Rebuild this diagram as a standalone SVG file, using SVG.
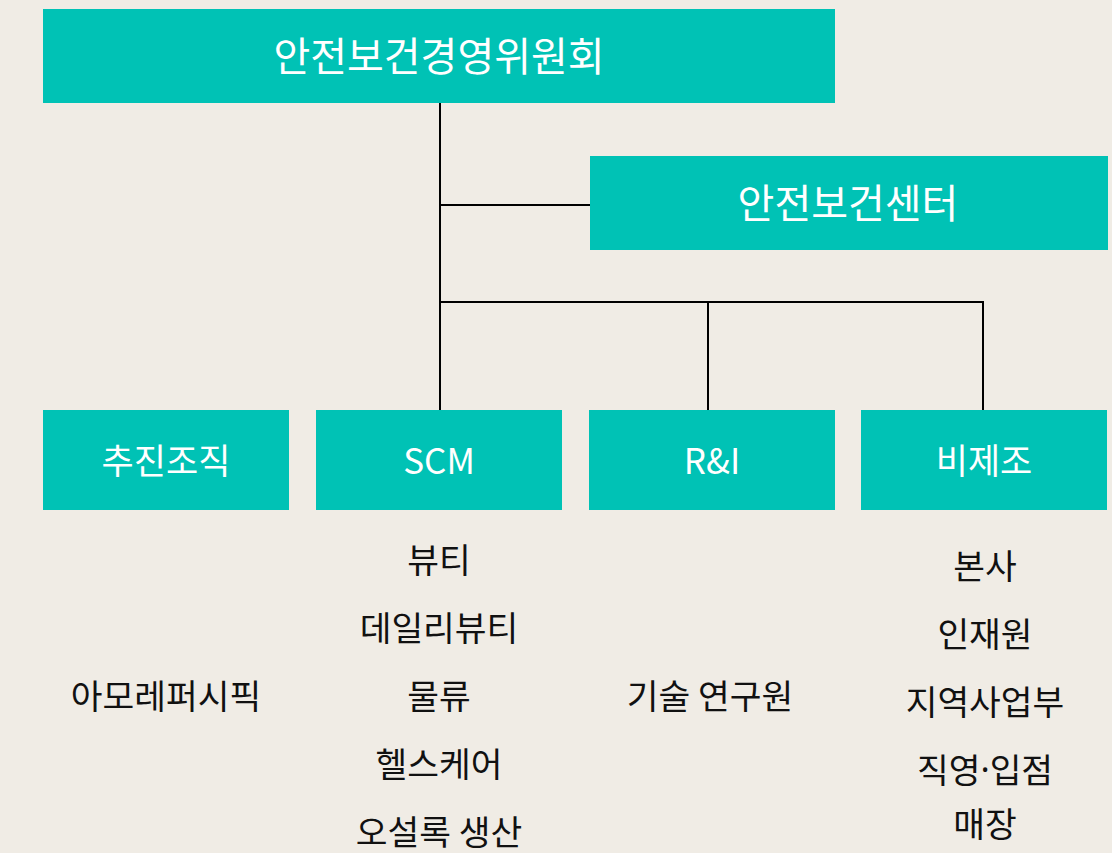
<svg xmlns="http://www.w3.org/2000/svg" width="1112" height="853" viewBox="0 0 1112 853">
<style>
.box{fill:#00C2B5}
.bt{fill:#FFFFFF;font-family:"Noto Sans CJK KR","Noto Sans",sans-serif;text-anchor:middle;dominant-baseline:central}
.lt{fill:#111111;font-family:"Noto Sans CJK KR","Noto Sans",sans-serif;text-anchor:middle;dominant-baseline:central;font-size:34.5px}
.ln{stroke:#000000;stroke-width:2;fill:none}
</style>
<rect width="1112" height="853" fill="#F0ECE5"/>
<g id="connectors">
<line class="ln" x1="440" y1="103" x2="440" y2="410"/>
<line class="ln" x1="440" y1="205" x2="590" y2="205"/>
<line class="ln" x1="440" y1="302" x2="984" y2="302"/>
<line class="ln" x1="708" y1="302" x2="708" y2="410"/>
<line class="ln" x1="983" y1="302" x2="983" y2="410"/>
</g>
<g id="committee">
<rect class="box" x="43" y="9" width="792" height="94"/>
<text class="bt" x="439" y="54" font-size="40">안전보건경영위원회</text>
</g>
<g id="center">
<rect class="box" x="590" y="156" width="518" height="94"/>
<text class="bt" x="848" y="201" font-size="40">안전보건센터</text>
</g>
<g id="promo">
<rect class="box" x="43" y="410" width="246" height="100"/>
<text class="bt" x="166" y="458" font-size="35">추진조직</text>
<text class="lt" x="166" y="694">아모레퍼시픽</text>
</g>
<g id="scm">
<rect class="box" x="316" y="410" width="246" height="100"/>
<text class="bt" x="439" y="458" font-size="35">SCM</text>
<text class="lt" x="439" y="558">뷰티</text>
<text class="lt" x="439" y="626">데일리뷰티</text>
<text class="lt" x="439" y="694">물류</text>
<text class="lt" x="439" y="762">헬스케어</text>
<text class="lt" x="439" y="830">오설록 생산</text>
</g>
<g id="ri">
<rect class="box" x="589" y="410" width="246" height="100"/>
<text class="bt" x="712" y="458" font-size="35">R&amp;I</text>
<text class="lt" x="710" y="694">기술 연구원</text>
</g>
<g id="nonmfg">
<rect class="box" x="861" y="410" width="246" height="100"/>
<text class="bt" x="984" y="458" font-size="35">비제조</text>
<text class="lt" x="985" y="564">본사</text>
<text class="lt" x="985" y="632">인재원</text>
<text class="lt" x="985" y="700">지역사업부</text>
<text class="lt" x="985" y="768">직영<tspan font-family="'Noto Sans',sans-serif">·</tspan>입점</text>
<text class="lt" x="985" y="822">매장</text>
</g>
</svg>
